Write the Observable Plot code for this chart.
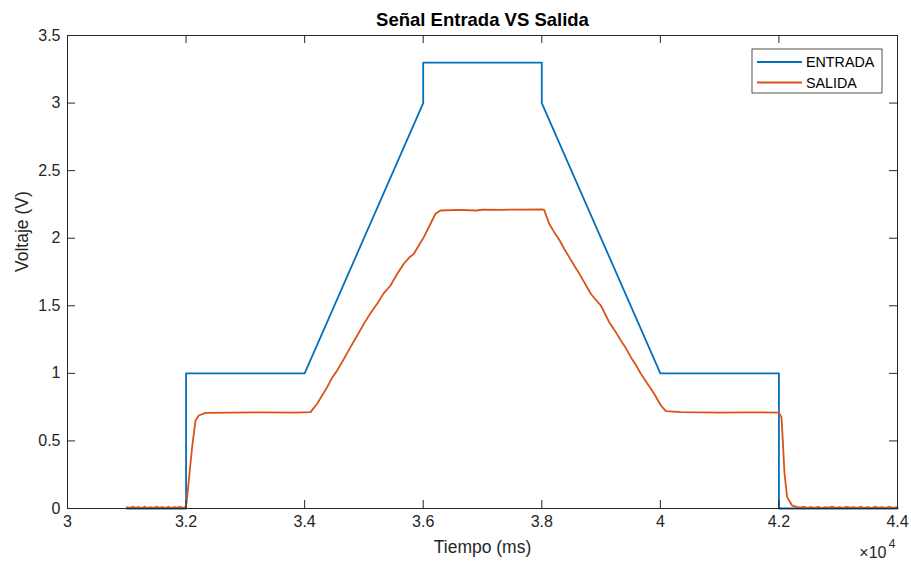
<!DOCTYPE html>
<html>
<head>
<meta charset="utf-8">
<script src="https://cdn.jsdelivr.net/npm/d3@7"></script>
<script src="https://cdn.jsdelivr.net/npm/@observablehq/plot@0.6"></script>
<style>
  html, body { margin: 0; padding: 0; background: #fff; }
</style>
</head>
<body>
<div id="chart"></div>
<script>
// ---- data ----
const title = "Señal Entrada VS Salida";
const xLabel = "Tiempo (ms)";
const yLabel = "Voltaje (V)";
const seriesNames = ["ENTRADA", "SALIDA"];
const seriesColors = ["#0072BD", "#D95319"];

const xTicks = [30000, 32000, 34000, 36000, 38000, 40000, 42000, 44000];
const xTickLabels = ["3", "3.2", "3.4", "3.6", "3.8", "4", "4.2", "4.4"];
const yTicks = [0, 0.5, 1, 1.5, 2, 2.5, 3, 3.5];
const yTickLabels = ["0", "0.5", "1", "1.5", "2", "2.5", "3", "3.5"];

// ENTRADA (time ms, volts)
const entradaT = [31000, 32000, 32000, 34000, 36000, 36000, 38000, 38000, 40000, 42000, 42000, 44000];
const entradaV = [0, 0, 1, 1, 3.0, 3.3, 3.3, 3.0, 1, 1, 0, 0];

// SALIDA (time ms, volts)
const salidaT = [
  31000, 31050, 31100, 31150, 31200, 31250, 31300, 31350, 31400, 31450, 31500, 31550, 31600, 31650, 31700, 31750, 31800, 31850, 31900, 31950, 31985,
  32007, 32046, 32102, 32159, 32215, 32327, 32800, 33300, 33800, 34000,
  34099, 34211, 34300, 34380, 34460, 34549, 34660, 34773, 34880, 34998, 35110, 35223, 35330, 35448, 35560, 35673, 35760, 35842, 35930, 36011, 36123, 36208, 36292,
  36600, 36900, 37000, 37300, 37600, 38000,
  38040, 38124, 38209, 38300, 38377, 38460, 38546, 38630, 38715, 38827, 38910, 38996, 39137, 39230, 39333, 39420, 39502, 39590, 39671, 39783, 39896, 40009, 40093, 40346,
  41000, 41500, 41997, 42043, 42065, 42094, 42139, 42222, 42300,
  42360, 42420, 42480, 42540, 42600, 42660, 42720, 42780, 42840, 42900, 42960, 43020, 43080, 43140, 43200, 43260, 43320, 43380, 43440, 43500, 43560, 43620, 43680, 43740, 43800, 43860, 43920, 44000
];
const salidaV = [
  0.010, 0.004, 0.012, 0.006, 0.011, 0.003, 0.013, 0.005, 0.010, 0.004, 0.012, 0.006, 0.011, 0.004, 0.013, 0.005, 0.010, 0.006, 0.012, 0.004, 0.008,
  0.035, 0.207, 0.454, 0.651, 0.688, 0.708, 0.710, 0.712, 0.710, 0.712,
  0.713, 0.775, 0.840, 0.898, 0.965, 1.021, 1.105, 1.194, 1.275, 1.366, 1.445, 1.515, 1.590, 1.650, 1.735, 1.811, 1.855, 1.885, 1.950, 2.008, 2.107, 2.181, 2.205,
  2.210, 2.205, 2.212, 2.210, 2.212, 2.213,
  2.210, 2.107, 2.045, 1.985, 1.922, 1.862, 1.798, 1.740, 1.675, 1.589, 1.545, 1.502, 1.379, 1.318, 1.243, 1.185, 1.120, 1.060, 0.997, 0.923, 0.849, 0.762, 0.720, 0.713,
  0.710, 0.712, 0.710, 0.676, 0.503, 0.257, 0.084, 0.022, 0.012,
  0.006, 0.013, 0.004, 0.011, 0.005, 0.012, 0.003, 0.010, 0.006, 0.013, 0.004, 0.011, 0.005, 0.012, 0.006, 0.010, 0.004, 0.013, 0.005, 0.011, 0.003, 0.012, 0.006, 0.010, 0.004, 0.013, 0.005, 0.010
];

// ---- build tables ----
const entrada = entradaT.map((t, i) => ({t, v: entradaV[i]}));
const salida = salidaT.map((t, i) => ({t, v: salidaV[i]}));

const W = 911, H = 562;
const mT = 35, mR = 14, mB = 54, mL = 67;
const innerW = W - mL - mR, innerH = H - mT - mB;
const tick = 8;
const ink = "#262626";
const font = "'Liberation Sans', Arial, Helvetica, sans-serif";

const svg = Plot.plot({
  width: W, height: H,
  marginTop: mT, marginRight: mR, marginBottom: mB, marginLeft: mL,
  style: {fontFamily: font, fontSize: "16px", color: ink, background: "#fff"},
  x: {domain: [30000, 44000]},
  y: {domain: [0, 3.5]},
  marks: [
    Plot.line(entrada, {x: "t", y: "v", stroke: seriesColors[0], strokeWidth: 1.8}),
    Plot.line(salida, {x: "t", y: "v", stroke: seriesColors[1], strokeWidth: 1.8}),
    Plot.frame({stroke: ink, strokeWidth: 1}),
    Plot.ruleX(xTicks, {x: d => d, insetTop: innerH - tick, stroke: ink}),
    Plot.ruleX(xTicks, {x: d => d, insetBottom: innerH - tick, stroke: ink}),
    Plot.ruleY(yTicks, {y: d => d, insetRight: innerW - tick, stroke: ink}),
    Plot.ruleY(yTicks, {y: d => d, insetLeft: innerW - tick, stroke: ink}),
    Plot.axisX({ticks: xTicks, tickFormat: d => xTickLabels[xTicks.indexOf(d)], tickSize: 0, tickPadding: 7, label: null, fill: ink}),
    Plot.axisY({ticks: yTicks, tickFormat: d => yTickLabels[yTicks.indexOf(d)], tickSize: 0, tickPadding: 7, label: null, fill: ink}),
    Plot.text([title], {text: d => d, frameAnchor: "top", lineAnchor: "middle", dy: -15, fontWeight: "bold", fontSize: 18.5, fill: "#000"}),
    Plot.text([xLabel], {text: d => d, frameAnchor: "bottom", lineAnchor: "middle", dy: 39, fontSize: 17.5, fill: ink}),
    Plot.text([yLabel], {text: d => d, frameAnchor: "left", lineAnchor: "middle", dx: -45, rotate: -90, fontSize: 17.5, fill: ink}),
    Plot.text(["×10"], {text: d => d, frameAnchor: "bottom-right", lineAnchor: "middle", dx: -11, dy: 44, textAnchor: "end", fontSize: 16, fill: ink}),
    Plot.text(["4"], {text: d => d, frameAnchor: "bottom-right", lineAnchor: "middle", dx: -2, dy: 36, textAnchor: "end", fontSize: 12, fill: ink})
  ]
});

// enforce tick label font size
d3.select(svg).selectAll('g[aria-label="x-axis tick label"], g[aria-label="y-axis tick label"]')
  .style("font-size", "16px");

// ---- legend (MATLAB style box, top-right) ----
const lg = d3.select(svg).append("g").attr("transform", "translate(752,49)");
lg.append("rect").attr("x", 0).attr("y", 0).attr("width", 130).attr("height", 44)
  .attr("fill", "#fff").attr("stroke", ink).attr("stroke-width", 0.8);
seriesNames.forEach((name, i) => {
  const yy = 13 + i * 20.5;
  lg.append("line").attr("x1", 5).attr("x2", 50).attr("y1", yy).attr("y2", yy)
    .attr("stroke", seriesColors[i]).attr("stroke-width", 1.8);
  lg.append("text").attr("x", 54).attr("y", yy).attr("dy", "0.35em")
    .attr("text-anchor", "start")
    .style("font-size", "14.3px").attr("fill", "#000")
    .attr("font-family", font)
    .text(name);
});

document.getElementById("chart").appendChild(svg);
</script>
</body>
</html>
